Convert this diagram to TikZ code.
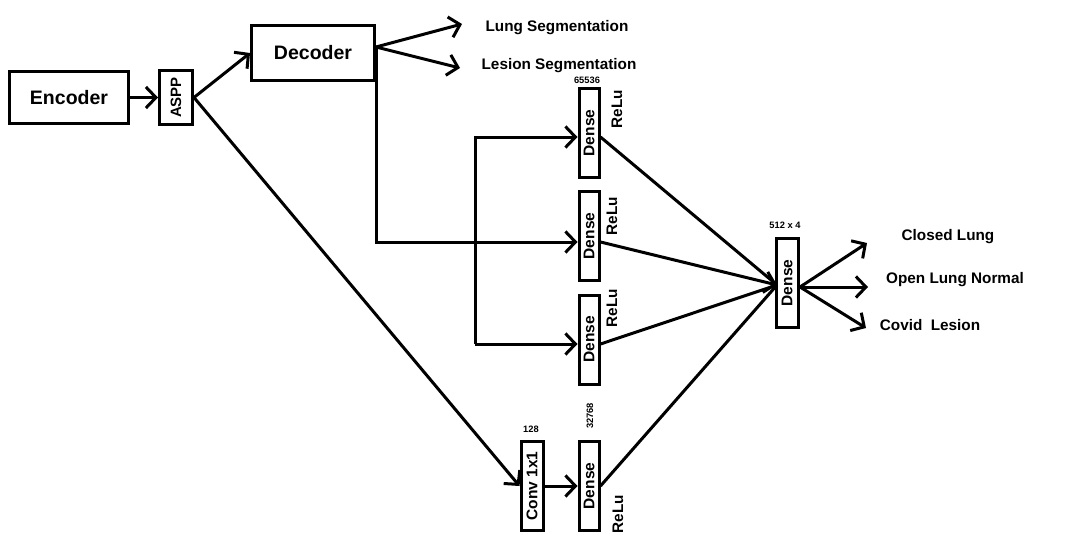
\documentclass[tikz,border=0pt]{standalone}
\usepackage{fontspec}
\setmainfont{Liberation Sans}
\usetikzlibrary{arrows.meta}
\begin{document}
\begin{tikzpicture}[x=1pt,y=-1pt,
  wire/.style={line width=3pt},
  arr/.style={wire,-{Straight Barb[length=10pt,width=21pt,line width=3pt]}},
  block/.style={draw,line width=3pt,inner sep=0pt,font=\fontsize{19.5}{20}\selectfont\bfseries},
  vblock/.style={draw,line width=3pt,inner sep=0pt,minimum width=20pt,minimum height=89pt,font=\fontsize{15.5}{16}\selectfont\bfseries},
  lbl/.style={inner sep=0pt,font=\fontsize{15.3}{16}\selectfont\bfseries},
  num/.style={inner sep=0pt,font=\fontsize{9.3}{10}\selectfont\bfseries}
]
\useasboundingbox (0,0) rectangle (1090,554);

% encoder / ASPP / decoder
\node[block,minimum width=119pt,minimum height=52pt] (enc) at (69,97.5) {Encoder};
\node[block,minimum width=33pt,minimum height=54pt,font=\fontsize{15}{16}\selectfont\bfseries] (aspp) at (176,97.5) {\rotatebox{90}{ASPP}};
\node[block,minimum width=123pt,minimum height=55pt] (dec) at (313,53) {Decoder};

% dense stacks
\node[vblock] (d1) at (589,133) {\rotatebox{90}{Dense}};
\node[vblock] (d2) at (589,236) {\rotatebox{90}{Dense}};
\node[vblock] (d3) at (589,339.5) {\rotatebox{90}{Dense}};
\node[vblock] (d4) at (589,486) {\rotatebox{90}{Dense}};
\node[vblock,minimum width=22pt] (conv) at (532,486) {\rotatebox{90}{Conv 1x1}};
\node[vblock,minimum width=22pt] (fin) at (787,283) {\rotatebox{90}{Dense}};

% activation and size labels
\node[lbl] (r1) at (617,109) {\rotatebox{90}{ReLu}};
\node[lbl] (r2) at (612,216) {\rotatebox{90}{ReLu}};
\node[lbl] (r3) at (612,308) {\rotatebox{90}{ReLu}};
\node[lbl] (r4) at (618,514) {\rotatebox{90}{ReLu}};
\node[num] (n1) at (587,80) {65536};
\node[num] (n2) at (531,429) {128};
\node[num] (n3) at (590,416) {\rotatebox{90}{32768}};
\node[num] (n4) at (785,225) {512 x 4};

% output labels
\node[lbl] (lung) at (557,28) {Lung Segmentation};
\node[lbl] (lesion) at (559,66) {Lesion Segmentation};
\node[lbl] (o1) at (948,237) {Closed Lung};
\node[lbl] (o2) at (955,280) {Open Lung Normal};
\node[lbl] (o3) at (930,325) {Covid\ \ Lesion};

% routing points
\coordinate (dsplit) at (376,47);
\coordinate (lt) at (462,24);
\coordinate (lst) at (460,68);
\coordinate (b2) at (376,242);
\coordinate (t1) at (475,137);
\coordinate (t3) at (475,344);
\coordinate (fin in) at (777,285);
\coordinate (fout) at (800,287);
\coordinate (e1) at (867,243);
\coordinate (e2) at (868,287);
\coordinate (e3) at (866,328);

% connectors
\draw[arr] (enc.east) -- (aspp.west);
\draw[arr] (aspp.east) -- (dec.west);
\draw[arr] (aspp.east) -- (conv.west);
\draw[arr] (dsplit) -- (lt);
\draw[arr] (dsplit) -- (lst);
\draw[arr] (dec.north east |- dsplit) -- (b2) -- (d2.west |- b2);
\draw[arr] (t1 |- t3) -- (t1) -- (d1.west |- t1);
\draw[arr] (t3) -- (d3.west |- t3);
\draw[arr] (conv.east) -- (d4.west);

\draw[wire] (d1.east |- t1) -- (fin in);
\draw[arr] (d2.east |- b2) -- (fin in);
\draw[wire] (d3.east |- t3) -- (fin in);
\draw[wire] (d4.east) -- (fin in);

\draw[arr] (fout) -- (e1);
\draw[arr] (fout) -- (e2);
\draw[arr] (fout) -- (e3);
\end{tikzpicture}
\end{document}
